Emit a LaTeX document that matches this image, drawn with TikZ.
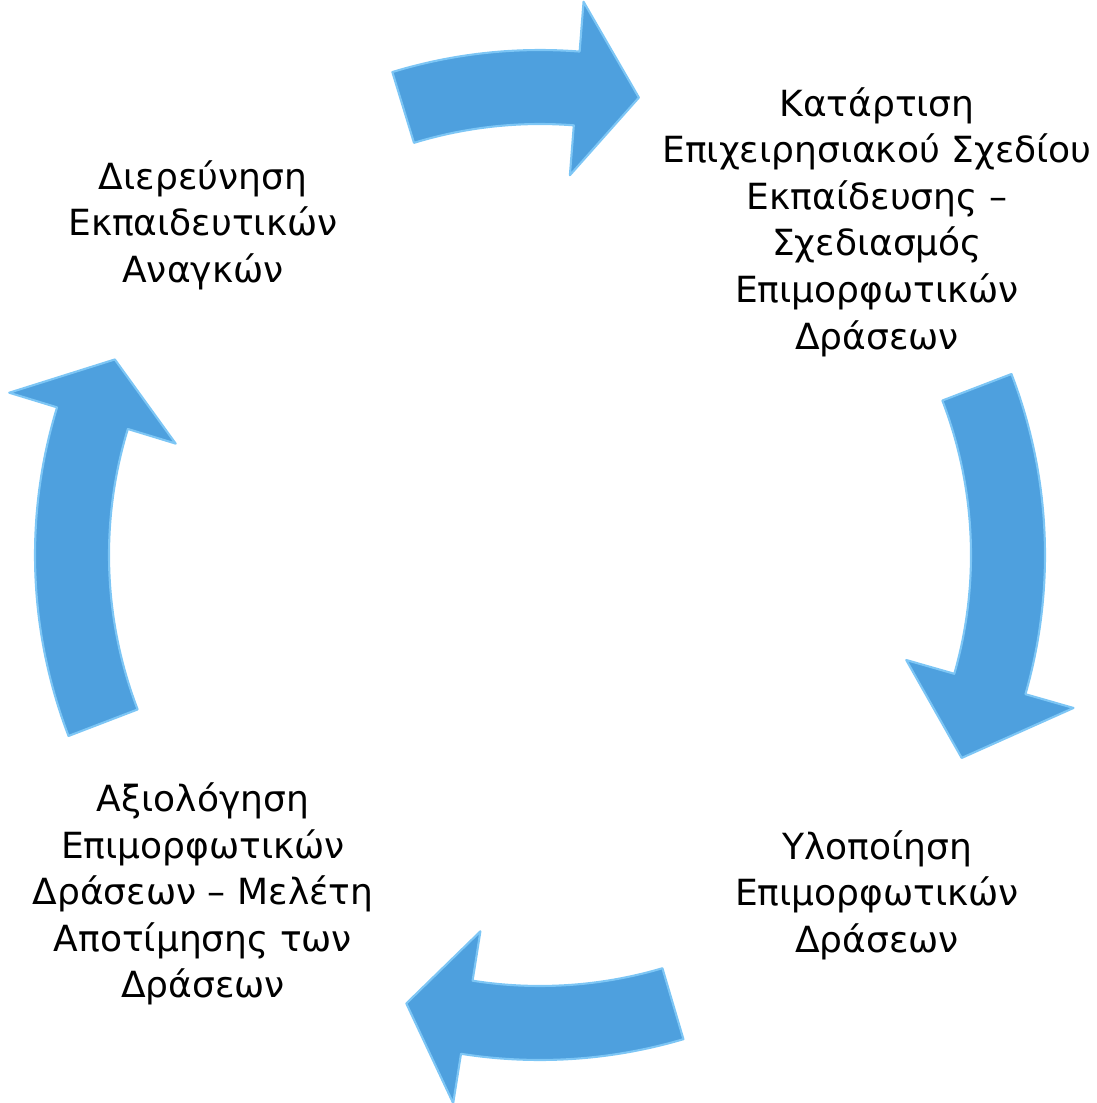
\documentclass[tikz,border=0pt]{standalone}
\usepackage{fontspec}
\setmainfont{DejaVu Sans}
\usepackage{xcolor}
\usepackage{tikz}
\usetikzlibrary{positioning}

\definecolor{arrowblue}{RGB}{78,160,222}
\definecolor{arrowedge}{RGB}{125,198,245}

% curved block arrow round the centre: #1 tail, #2 head base, #3 tip (angles)
\newcommand{\cyclearrow}[3]{%
  \draw[blockarrow] (#1:505) arc[start angle=#1, end angle=#2, radius=505]
    -- (#2:555) -- (#3:468) -- (#2:381) -- (#2:431)
    arc[start angle=#2, end angle=#1, radius=431] -- cycle;}

\begin{document}
\begin{tikzpicture}[x=0.02cm, y=0.02cm,
    blockarrow/.style={fill=arrowblue, draw=arrowedge, line width=1.2pt, line join=round},
    steptext/.style={align=center, font=\fontsize{20.5}{26.5}\selectfont, text=black}]
  \useasboundingbox (0,0) rectangle (1097,1103);

  % Stage texts
  \node[steptext] (needs) at (203,878) {Διερεύνηση\\Εκπαιδευτικών\\Αναγκών};
  \node[steptext] (plan) at (877,881) {Κατάρτιση\\Επιχειρησιακού Σχεδίου\\Εκπαίδευσης –\\Σχεδιασμός\\Επιμορφωτικών\\Δράσεων};
  \node[steptext] (run) at (877,208) {Υλοποίηση\\Επιμορφωτικών\\Δράσεων};
  \node[steptext] (review) at (203,209) {Αξιολόγηση\\Επιμορφωτικών\\Δράσεων – Μελέτη\\Αποτίμησης των\\Δράσεων};

  % Cycle arrows
  \begin{scope}[shift={(540,548)}]
    \cyclearrow{107}{85.5}{77.8}
    \cyclearrow{21}{-16}{-25.7}
    \cyclearrow{-73.5}{-99}{-106.6}
    \cyclearrow{201}{163}{155.3}
  \end{scope}
\end{tikzpicture}
\end{document}
